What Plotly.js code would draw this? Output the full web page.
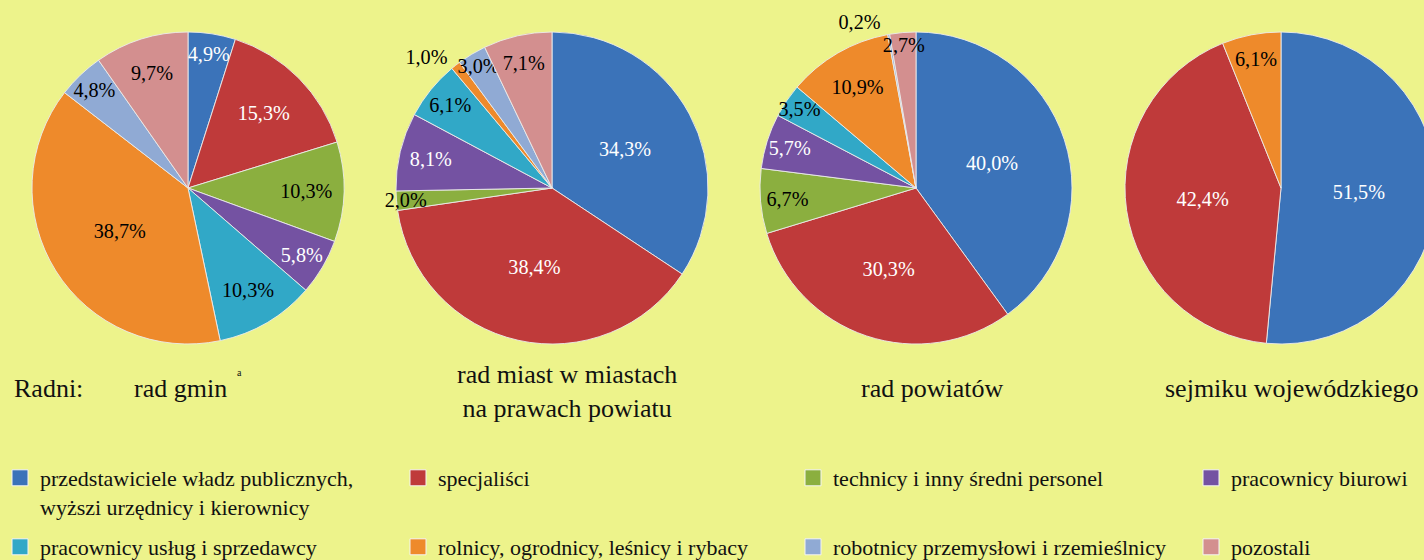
<!DOCTYPE html>
<html>
<head>
<meta charset="utf-8">
<script src="https://cdn.plot.ly/plotly-3.0.1.min.js"></script>
<style>
  html, body { margin: 0; padding: 0; background: #EDF38B; overflow: hidden; width: 1424px; height: 560px; }
  #chart { width: 1440px; height: 560px; }
</style>
</head>
<body>
<div id="chart"></div>
<script>
// ---- data ----
const categories = [
  "przedstawiciele władz publicznych,<br>wyższi urzędnicy i kierownicy",
  "specjaliści",
  "technicy i inny średni personel",
  "pracownicy biurowi",
  "pracownicy usług i sprzedawcy",
  "rolnicy, ogrodnicy, leśnicy i rybacy",
  "robotnicy przemysłowi i rzemieślnicy",
  "pozostali"
];
const radGmin      = [4.9, 15.3, 10.3, 5.8, 10.3, 38.7, 4.8, 9.7];
const radMiast     = [34.3, 38.4, 2.0, 8.1, 6.1, 1.0, 3.0, 7.1];
const radPowiatow  = [40.0, 30.3, 6.7, 5.7, 3.5, 10.9, 0.2, 2.7];
const sejmik       = [51.5, 42.4, 0, 0, 0, 6.1, 0, 0];
const pieTitles = ["rad gmin", "rad miast w miastach<br>na prawach powiatu", "rad powiatów", "sejmiku wojewódzkiego"];

// ---- styles ----
const colors = ["#3B73B9", "#BF3A3A", "#8BAF3F", "#7452A2", "#31A8C7", "#EE8A2B", "#90AAD4", "#D38F8F"];
const textColors = ["#ffffff", "#ffffff", "#000000", "#ffffff", "#000000", "#000000", "#000000", "#000000"];
const FONT = "Liberation Serif";
const W = 1440, H = 560;
const fx = p => p / W, fy = p => 1 - p / H;
const centersX = [188, 552, 916, 1281], centerY = 188, R = 156;
const outsideCats = { 1: [5], 2: [6] };

const series = [radGmin, radMiast, radPowiatow, sejmik];
const traces = [];
series.forEach((vals, k) => {
  const idx = vals.map((v, i) => i).filter(i => vals[i] > 0);
  const cx = centersX[k];
  traces.push({
    type: "pie",
    labels: idx.map(i => categories[i]),
    values: idx.map(i => vals[i]),
    sort: false,
    direction: "clockwise",
    rotation: 0,
    showlegend: false,
    hoverinfo: "label+value",
    texttemplate: "%{value:.1f}%",
    textposition: idx.map(i => (outsideCats[k] || []).includes(i) ? "outside" : "inside"),
    insidetextorientation: "horizontal",
    insidetextfont: { family: FONT, size: 22, color: idx.map(i => textColors[i]) },
    outsidetextfont: { family: FONT, size: 22, color: "#000000" },
    marker: { colors: idx.map(i => colors[i]), line: { color: "rgba(235,235,235,0.9)", width: 1 } },
    domain: { x: [fx(cx - R), fx(cx + R)], y: [fy(centerY + R), fy(centerY - R)] }
  });
});

// legend entries (one small legend per entry)
const legendCol = [0, 398, 793, 1191];
const legendRowTop = [457, 526];
const legendsLayout = {};
categories.forEach((c, i) => {
  const row = Math.floor(i / 4), col = i % 4;
  const key = i === 0 ? "legend" : "legend" + (i + 1);
  traces.push({
    type: "scatter", mode: "markers", x: [null], y: [null],
    name: c, legend: key, showlegend: true, hoverinfo: "skip",
    marker: { symbol: "square", size: 16, color: colors[i], line: { color: "#f4f4f4", width: 1 } }
  });
  legendsLayout[key] = {
    x: fx(legendCol[col]), xanchor: "left", y: fy(legendRowTop[row]), yanchor: "top",
    bgcolor: "rgba(0,0,0,0)", borderwidth: 0, valign: "top",
    font: { family: FONT, size: 22, color: "#111111" }
  };
});

const annotations = [
  { text: "Radni:", x: fx(12), y: fy(388), xanchor: "left", yanchor: "middle" },
  { text: pieTitles[0], x: fx(180), y: fy(388), xanchor: "center", yanchor: "middle" },
  { text: "a", x: fx(239), y: fy(372), xanchor: "center", yanchor: "middle", font: { family: FONT, size: 10, color: "#111" } },
  { text: pieTitles[1], x: fx(567), y: fy(391), xanchor: "center", yanchor: "middle" },
  { text: pieTitles[2], x: fx(932), y: fy(388), xanchor: "center", yanchor: "middle" },
  { text: pieTitles[3], x: fx(1291), y: fy(388), xanchor: "center", yanchor: "middle" }
].map(a => Object.assign({ xref: "paper", yref: "paper", showarrow: false,
  font: { family: FONT, size: 26, color: "#111111" } }, a, a.font ? { font: a.font } : {}));

const layout = Object.assign({
  width: W, height: H,
  margin: { l: 0, r: 0, t: 0, b: 0, autoexpand: false },
  paper_bgcolor: "#EDF38B", plot_bgcolor: "rgba(0,0,0,0)",
  separators: ", ",
  uniformtext: { minsize: 20, mode: "show" },
  xaxis: { visible: false }, yaxis: { visible: false },
  annotations: annotations,
  font: { family: FONT }
}, legendsLayout);

Plotly.newPlot("chart", traces, layout, { displayModeBar: false, staticPlot: true });
</script>
</body>
</html>
